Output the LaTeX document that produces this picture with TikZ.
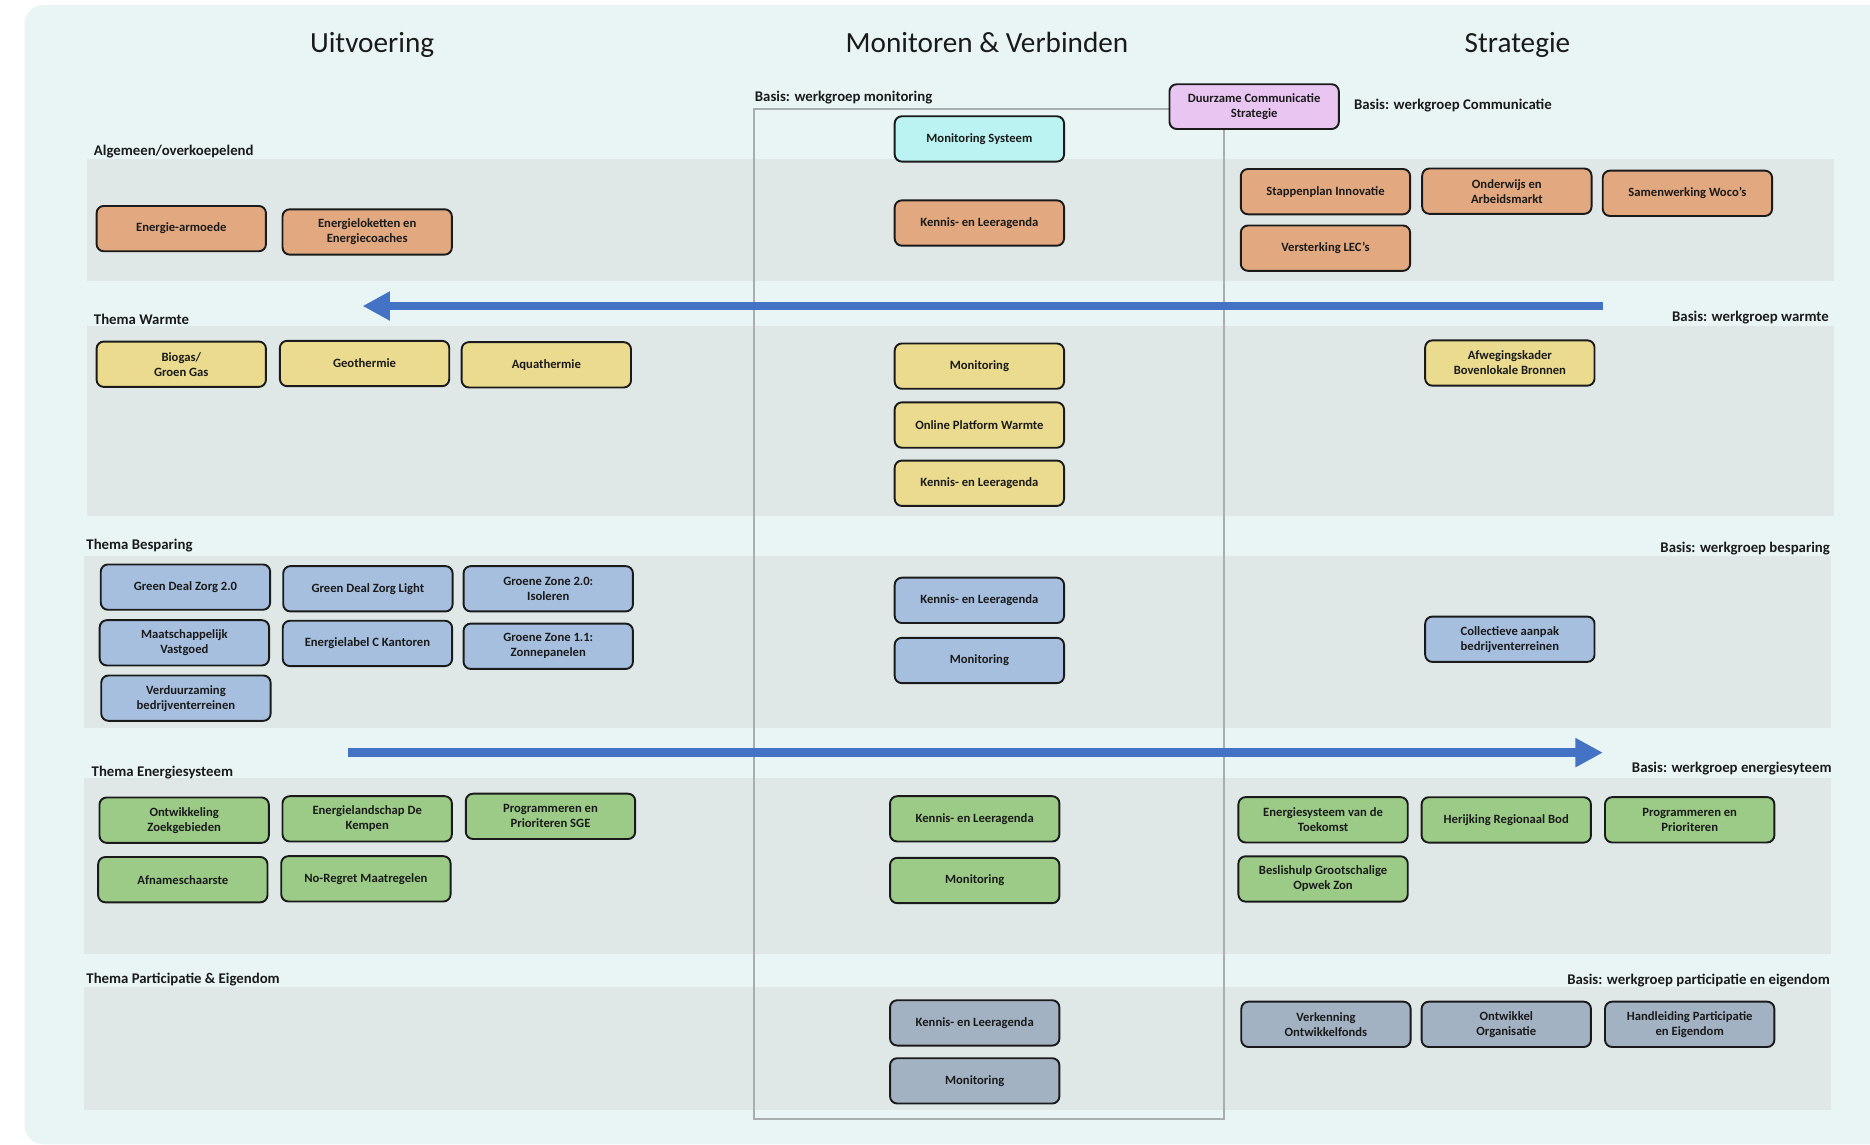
\documentclass[tikz,border=0pt]{standalone}
\usepackage{fontspec}
\setmainfont{Carlito}
\usetikzlibrary{arrows.meta}
\definecolor{panel}{HTML}{E9F5F5}
\definecolor{band}{HTML}{DFE8E7}
\definecolor{framec}{HTML}{A8AEAE}
\definecolor{arrowc}{HTML}{4472C4}
\definecolor{corange}{HTML}{E2A980}
\definecolor{cyellow}{HTML}{EADB8E}
\definecolor{cblue}{HTML}{A6BFDF}
\definecolor{cgreen}{HTML}{9BCB87}
\definecolor{cslate}{HTML}{A2B2C3}
\definecolor{ccyan}{HTML}{BAF3F1}
\definecolor{cpink}{HTML}{E9C6F2}
\definecolor{ink}{HTML}{1A1A1A}
\tikzset{
  bx/.style={draw=ink, line width=1.6pt, rounded corners=6pt, minimum width=142pt,
    minimum height=38pt, inner sep=0pt, align=center, text=ink,
    font=\bfseries\fontsize{10.6}{12.6}\selectfont},
  orangebox/.style={bx, fill=corange},
  yellowbox/.style={bx, fill=cyellow},
  bluebox/.style={bx, fill=cblue},
  greenbox/.style={bx, fill=cgreen},
  slatebox/.style={bx, fill=cslate},
  lbl/.style={inner sep=0pt, text=ink, font=\bfseries\fontsize{12.4}{14}\selectfont},
  ttl/.style={inner sep=0pt, anchor=base, text=ink, font=\fontsize{24.5}{29}\selectfont},
  bandr/.style={fill=band},
  bigarrow/.style={draw=arrowc, line width=7.5pt, -{Triangle[length=23pt,width=23pt]}}
}
\begin{document}
\begin{tikzpicture}[x=1pt,y=-1pt]
\useasboundingbox (0,0) rectangle (1568,960);
\fill[white] (0,0) rectangle (1568,960);
\clip (0,0) rectangle (1568,960);
\fill[panel, rounded corners=16pt] (20.6,4.2) rectangle (1620,959.5);

% bands
\fill[bandr] (73,133.3) rectangle (1537.4,235.6);
\fill[bandr] (73,273.4) rectangle (1537.4,432.4);
\fill[bandr] (70.4,466.2) rectangle (1535.6,610.7);
\fill[bandr] (70.4,652.1) rectangle (1535.6,800);
\fill[bandr] (70.4,827.9) rectangle (1535.6,930.7);

% titles
\node[ttl] (t1) at (312,43.9) {Uitvoering};
\node[ttl] (t2) at (827.6,43.9) {Monitoren \& Verbinden};
\node[ttl] (t3) at (1272.4,43.9) {Strategie};

% section labels
\node[lbl, anchor=base west] (l1) at (78.6,130.8) {Algemeen/overkoepelend};
\node[lbl, anchor=base west] (l2) at (78.6,271.7) {Thema Warmte};
\node[lbl, anchor=base west] (l3) at (72.3,461) {Thema Besparing};
\node[lbl, anchor=base west] (l4) at (76.7,650.7) {Thema Energiesysteem};
\node[lbl, anchor=base west] (l5) at (72.3,824.5) {Thema Participatie \& Eigendom};

\node[lbl, anchor=base west] (r0) at (632.8,85.3) {Basis: werkgroep monitoring};
\node[lbl, anchor=base west] (rc) at (1135.2,92.2) {Basis: werkgroep Communicatie};
\node[lbl, anchor=base east] (r1) at (1533.7,269.7) {Basis: werkgroep warmte};
\node[lbl, anchor=base east] (r2) at (1534.5,463.4) {Basis: werkgroep besparing};
\node[lbl, anchor=base east] (r3) at (1536,647.6) {Basis: werkgroep energiesyteem};
\node[lbl, anchor=base east] (r4) at (1534.5,825.4) {Basis: werkgroep participatie en eigendom};

% monitoring frame
\draw[framec, line width=1.5pt] (631.9,91.7) rectangle (1026.5,938.3);

% arrows
\coordinate (a1s) at (1344,256.6);
\coordinate (a1e) at (304,256.6);
\coordinate (a2s) at (291.6,631.1);
\coordinate (a2e) at (1344,631.1);
\draw[bigarrow] (a1s) -- (a1e);
\draw[bigarrow] (a2s) -- (a2e);

% top boxes
\node[bx, fill=cpink, minimum width=142pt, minimum height=37.5pt] (dcs) at (1051.6,89.4) {Duurzame Communicatie\\Strategie};
\node[bx, fill=ccyan] (ms) at (821.2,116.5) {Monitoring Systeem};

% band 1
\node[orangebox] (e1) at (152,191.7) {Energie-armoede};
\node[orangebox] (e2) at (307.9,194.5) {Energieloketten en\\Energiecoaches};
\node[orangebox] (m1) at (821.2,187) {Kennis- en Leeragenda};
\node[orangebox] (s1) at (1111.4,160.7) {Stappenplan Innovatie};
\node[orangebox] (s2) at (1263.5,160.3) {Onderwijs en\\Arbeidsmarkt};
\node[orangebox] (s3) at (1414.9,162.1) {Samenwerking Woco’s};
\node[orangebox] (s4) at (1111.4,208.1) {Versterking LEC’s};

% band 2
\node[yellowbox] (w1) at (152,305.4) {Biogas/\\Groen Gas};
\node[yellowbox] (w2) at (305.7,304.8) {Geothermie};
\node[yellowbox] (w3) at (458.1,305.9) {Aquathermie};
\node[yellowbox] (wm1) at (821.2,307) {Monitoring};
\node[yellowbox] (wm2) at (821.2,356.4) {Online Platform Warmte};
\node[yellowbox] (wm3) at (821.2,405.2) {Kennis- en Leeragenda};
\node[yellowbox] (ws1) at (1266,304.4) {Afwegingskader\\Bovenlokale Bronnen};

% band 3
\node[bluebox] (b1) at (155.5,492.3) {Green Deal Zorg 2.0};
\node[bluebox] (b2) at (308.5,493.7) {Green Deal Zorg Light};
\node[bluebox] (b3) at (459.7,493.7) {Groene Zone 2.0:\\Isoleren};
\node[bluebox] (b4) at (154.6,539) {Maatschappelijk\\Vastgoed};
\node[bluebox] (b5) at (308.1,539.5) {Energielabel C Kantoren};
\node[bluebox] (b6) at (459.7,541.9) {Groene Zone 1.1:\\Zonnepanelen};
\node[bluebox] (b7) at (155.9,585.4) {Verduurzaming\\bedrijventerreinen};
\node[bluebox] (bm1) at (821.2,503.4) {Kennis- en Leeragenda};
\node[bluebox] (bm2) at (821.2,553.8) {Monitoring};
\node[bluebox] (bs1) at (1266,536) {Collectieve aanpak\\bedrijventerreinen};

% band 4
\node[greenbox] (g1) at (154.4,687.7) {Ontwikkeling\\Zoekgebieden};
\node[greenbox] (g2) at (307.9,686.6) {Energielandschap De\\Kempen};
\node[greenbox] (g3) at (461.6,684.5) {Programmeren en\\Prioriteren SGE};
\node[greenbox] (g4) at (153.3,737.6) {Afnameschaarste};
\node[greenbox] (g5) at (306.8,736.9) {No-Regret Maatregelen};
\node[greenbox] (gm1) at (817.3,686.6) {Kennis- en Leeragenda};
\node[greenbox] (gm2) at (817.3,738.3) {Monitoring};
\node[greenbox] (gs1) at (1109.4,687.4) {Energiesysteem van de\\Toekomst};
\node[greenbox] (gs2) at (1263,687.5) {Herijking Regionaal Bod};
\node[greenbox] (gs3) at (1416.8,687.4) {Programmeren en\\Prioriteren};
\node[greenbox] (gs4) at (1109.4,737) {Beslishulp Grootschalige\\Opwek Zon};

% band 5
\node[slatebox] (pm1) at (817.3,857.7) {Kennis- en Leeragenda};
\node[slatebox] (pm2) at (817.3,906.3) {Monitoring};
\node[slatebox] (ps1) at (1111.8,858.9) {Verkenning\\Ontwikkelfonds};
\node[slatebox] (ps2) at (1263,858.9) {Ontwikkel\\Organisatie};
\node[slatebox] (ps3) at (1416.8,858.9) {Handleiding Participatie\\en Eigendom};
\end{tikzpicture}
\end{document}
